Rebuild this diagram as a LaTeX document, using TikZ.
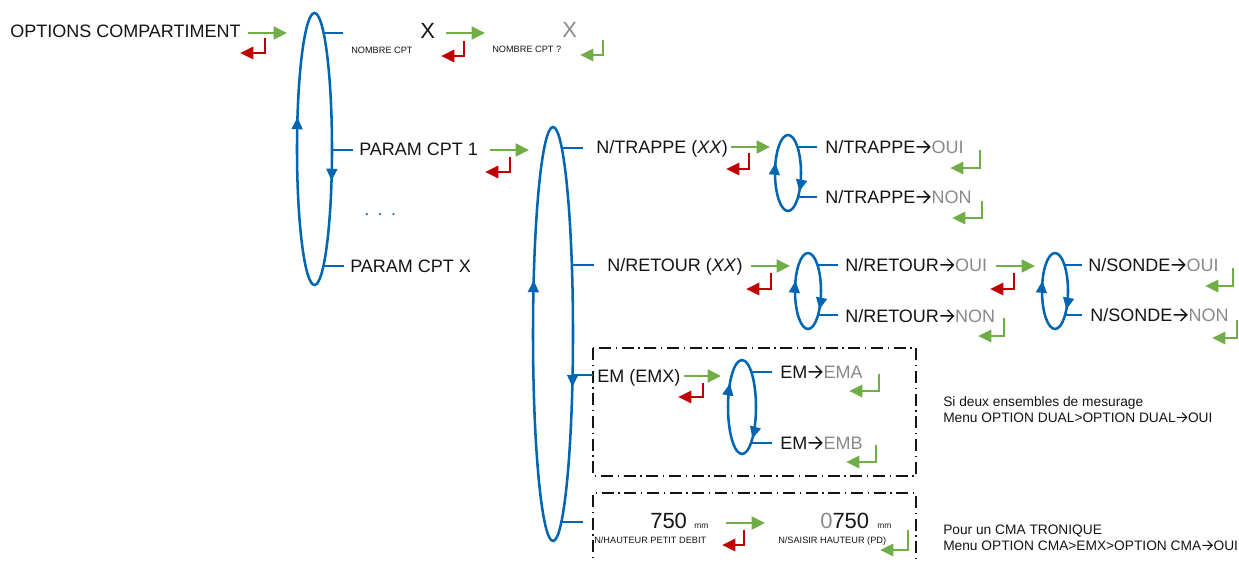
\documentclass[tikz,border=0pt]{standalone}
\usepackage{fontspec}
\setmainfont{Liberation Sans}
\usetikzlibrary{arrows.meta,decorations.markings}
\definecolor{cblue}{RGB}{0,102,178}
\definecolor{cgreen}{RGB}{112,173,71}
\definecolor{cred}{RGB}{192,0,0}
\definecolor{cgray}{RGB}{137,137,137}
\definecolor{ctext}{RGB}{20,20,20}
\newcommand\rarr{\hspace{0.04em}\tikz[baseline=0pt, x=0.072em, y=0.072em]{\draw[line width=0.075em, line cap=butt, line join=miter] (0,4.7) -- (10,4.7) (5.4,9.4) -- (10.1,4.7) -- (5.4,0);}\hspace{0.06em}}
\begin{document}
\begin{tikzpicture}[x=0.75pt,y=-0.75pt,
  lbl/.style={anchor=base west, inner sep=0, text=ctext, font=\fontsize{13.5}{16}\selectfont},
  small/.style={anchor=base west, inner sep=0, text=ctext, font=\fontsize{6.9}{8}\selectfont},
  tiny/.style={anchor=base west, inner sep=0, text=ctext, font=\fontsize{6.3}{7}\selectfont},
  big/.style={anchor=base west, inner sep=0, text=ctext, font=\fontsize{16.5}{20}\selectfont},
  note/.style={anchor=base west, inner sep=0, text=ctext, font=\fontsize{10.3}{12}\selectfont},
  fwd/.style={draw=cgreen, line width=2.1pt, -{Triangle[length=10pt,width=9.5pt]}},
  retr/.style={draw=cred, line width=2.1pt, -{Triangle[length=10pt,width=9pt]}},
  retg/.style={draw=cgreen, line width=2.1pt, -{Triangle[length=10pt,width=9pt]}},
  branch/.style={draw=cblue, line width=1.9pt},
  cyc/.style 2 args={draw=cblue, line width=1.9pt, postaction={decorate},
    decoration={markings,
      mark=at position #1 with {\arrow{Triangle[length=9pt,width=8pt]}},
      mark=at position #2 with {\arrow{Triangle[length=9pt,width=8pt]}}}},
  dbox/.style={draw=ctext, line width=1.1pt, dash pattern=on 9pt off 3.5pt on 1pt off 3.5pt},
]
\useasboundingbox (0,0) rectangle (1239,561);

% ---- top row
\node[lbl] (opt) at (10,37) {OPTIONS COMPARTIMENT};
\draw[fwd] (248,33) -- (287,33);
\draw[retr] (265,38) |- (240,53);

\draw[cyc={0.057}{0.557}] (314.5,149) ellipse [x radius=17.5, y radius=136];
\draw[branch] (323.5,33) -- (343,33);
\node[small] (nb) at (351,53) {NOMBRE CPT};
\node[big] (x1) at (420,38) {X};
\draw[fwd] (446,33) -- (485,33);
\draw[retr] (464,41) |- (441,56);
\node[big, text=cgray] (x2) at (562,37) {X};
\node[small] (nb2) at (492,52) {NOMBRE CPT ?};
\draw[retg] (603,40) |- (580,55);

% ---- PARAM
\draw[branch] (332,150) -- (353,150);
\node[lbl] (p1) at (359,155) {PARAM CPT 1};
\draw[fwd] (490,150) -- (529,150);
\draw[retr] (510,157) |- (485,172);
\node[lbl, text=cblue] (dots) at (364,215) {.\hspace{6.3pt}.\hspace{6.3pt}.};
\draw[branch] (323.4,266) -- (344,266);
\node[lbl] (px) at (350,272) {PARAM CPT X};

% ---- second loop
\draw[cyc={0.063}{0.564}] (553,334) ellipse [x radius=20, y radius=207];

% TRAPPE
\draw[branch] (561.8,148) -- (583,148);
\node[lbl] (tr) at (596,153) {N/TRAPPE (\textit{XX})};
\draw[fwd] (731,147) -- (770,147);
\draw[retr] (749,153) |- (726,169);
\draw[cyc={0.11}{0.56}] (788,173) ellipse [x radius=13, y radius=38];
\draw[branch] (797.5,147) -- (817,147);
\draw[branch] (798,197) -- (817,197);
\node[lbl] (tro) at (825,153) {N/TRAPPE\rarr\textcolor{cgray}{OUI}};
\draw[retg] (980,150) |- (950,168);
\node[lbl] (trn) at (825,203) {N/TRAPPE\rarr\textcolor{cgray}{NON}};
\draw[retg] (982,201) |- (952,218);

% RETOUR
\draw[branch] (571.9,265) -- (594,265);
\node[lbl] (re) at (607,271) {N/RETOUR (\textit{XX})};
\draw[fwd] (751,266) -- (790,266);
\draw[retr] (771,273) |- (746,289);
\draw[cyc={0.11}{0.56}] (808,291) ellipse [x radius=13, y radius=38];
\draw[branch] (817.5,265) -- (838,265);
\draw[branch] (818,315) -- (838,315);
\node[lbl] (reo) at (845,271) {N/RETOUR\rarr\textcolor{cgray}{OUI}};
\draw[fwd] (996,266) -- (1035,266);
\draw[retr] (1014,273) |- (990,289);
\node[lbl] (ren) at (845,322) {N/RETOUR\rarr\textcolor{cgray}{NON}};
\draw[retg] (1004,318) |- (978,336);
\draw[cyc={0.11}{0.56}] (1055,291) ellipse [x radius=13, y radius=38];
\draw[branch] (1064.5,265) -- (1082,265);
\draw[branch] (1065,315) -- (1082,315);
\node[lbl] (so) at (1088,271) {N/SONDE\rarr\textcolor{cgray}{OUI}};
\draw[retg] (1233,268) |- (1205,286);
\node[lbl] (sn) at (1090,321) {N/SONDE\rarr\textcolor{cgray}{NON}};
\draw[retg] (1237,320) |- (1212,338);

% EM box
\draw[dbox] (593,348) rectangle (916,476);
\draw[branch] (572.6,375) -- (593,375);
\node[lbl] (em) at (597,382) {EM (EMX)};
\draw[fwd] (684,376) -- (721,376);
\draw[retr] (703,383) |- (678,397);
\draw[cyc={0.155}{0.615}] (742,407) ellipse [x radius=14, y radius=47];
\draw[branch] (751.3,372) -- (772,372);
\draw[branch] (751,443) -- (772,443);
\node[lbl] (ema) at (780,378) {EM\rarr\textcolor{cgray}{EMA}};
\draw[retg] (879,374) |- (849,391);
\node[lbl] (emb) at (780,449) {EM\rarr\textcolor{cgray}{EMB}};
\draw[retg] (876,445) |- (846,462);
\node[note] (n1a) at (943,406) {Si deux ensembles de mesurage};
\node[note] (n1b) at (943,422) {Menu OPTION DUAL>OPTION DUAL\rarr OUI};

% Hauteur box
\draw[dbox] (593,575) -- (593,493) -- (916,493) -- (916,575);
\draw[branch] (561.4,522) -- (583,522);
\node[big] (h1) at (650,528) {750};
\node[tiny] (mm1) at (694,528) {mm};
\node[small] (hl) at (594,543) {N/HAUTEUR PETIT DEBIT};
\draw[fwd] (726,523) -- (765,523);
\draw[retr] (744,530) |- (722,545);
\node[big] (h2) at (820,528) {\textcolor{cgray}{0}750};
\node[tiny] (mm2) at (877,528) {mm};
\node[small] (hs) at (778,543) {N/SAISIR HAUTEUR (PD)};
\draw[retg] (908,530) |- (880,550);
\node[note] (n2a) at (943,534) {Pour un CMA TRONIQUE};
\node[note] (n2b) at (943,550) {Menu OPTION CMA>EMX>OPTION CMA\rarr OUI};
\end{tikzpicture}
\end{document}
